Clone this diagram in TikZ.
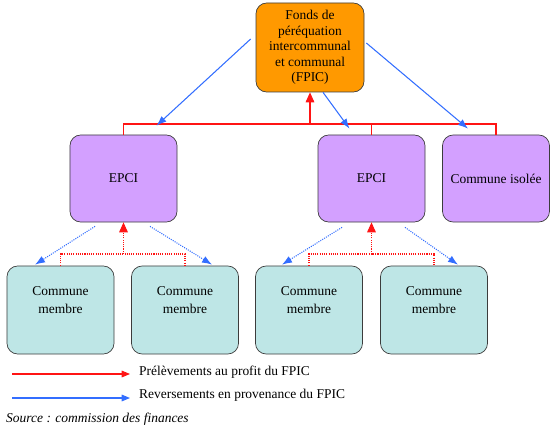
\documentclass[tikz,border=0pt]{standalone}
\usepackage{fontspec}
\setmainfont{Liberation Serif}
\usetikzlibrary{arrows.meta, positioning, calc}
\definecolor{fpicOrange}{RGB}{255,153,0}
\definecolor{fpicViolet}{RGB}{211,160,255}
\definecolor{fpicCyan}{RGB}{190,230,230}
\definecolor{fpicRed}{RGB}{255,20,20}
\definecolor{fpicBlue}{RGB}{51,110,255}
\definecolor{fpicInk}{RGB}{60,60,60}
\newcommand{\membretexte}{\raisebox{0.15cm}[0pt][0pt]{\begin{tabular}{@{}c@{}}Commune\\[2pt]membre\end{tabular}}}

\begin{document}
\begin{tikzpicture}[x=0.03cm, y=-0.03cm,
      box/.style={rounded corners=0.32cm, draw=fpicInk, line width=0.6pt, minimum width=3.21cm,
      minimum height=2.61cm, align=center, inner sep=2pt, font=\fontsize{11.5}{13.2}\selectfont},
      fonds/.style={box, fill=fpicOrange, minimum width=3.24cm, minimum height=2.67cm},
      groupe/.style={box, fill=fpicViolet},
      membre/.style={box, fill=fpicCyan, minimum height=2.64cm},
      prelev/.style={draw=fpicRed, line width=0.9pt},
      revers/.style={draw=fpicBlue, line width=0.9pt, -{Latex[length=0.3cm, width=0.22cm]}},
      legtext/.style={anchor=west, inner sep=0pt, font=\fontsize{11.5}{13.2}\selectfont}
    ]
    \useasboundingbox (0,0) rectangle (558,429);

    \node[fonds] (fpic) at (310,47.5) {Fonds de\\péréquation\\intercommunal\\et communal\\(FPIC)};
    \node[groupe] (epciA) at (123.5,178.5) {EPCI};
    \node[groupe] (epciB) at (371.5,178.5) {EPCI};
    \node[groupe] (isolee) at (496,178.5) {Commune isolée};

    \node[membre] (membreA) at (60.5,310) {\membretexte};
    \node[membre] (membreB) at (185,310) {\membretexte};
    \node[membre] (membreC) at (309,310) {\membretexte};
    \node[membre] (membreD) at (434,310) {\membretexte};

    % prelevements (rouge)
    \coordinate (bus) at (310,124);
    \draw[prelev] (epciA.north) |- (bus) -| (isolee.north);
    \draw[prelev] (epciB.north) -- (epciB.north |- bus);
    \draw[prelev, -{Triangle[length=0.3cm, width=0.26cm]}] (bus) -- (fpic.south);

    \coordinate (basA) at (123.5,254);
    \coordinate (basB) at (371.5,254);
    \draw[prelev, densely dotted] (membreA.north) |- (basA) -| (membreB.north);
    \draw[prelev, densely dotted] (membreC.north) |- (basB) -| (membreD.north);
    \draw[prelev, densely dotted, -{Triangle[length=0.3cm, width=0.26cm]}] (basA) -- (epciA.south);
    \draw[prelev, densely dotted, -{Triangle[length=0.3cm, width=0.26cm]}] (basB) -- (epciB.south);

    % reversements (bleu)
    \draw[revers] ($(fpic.west)+(-5,-8.5)$) -- ($(epciA.north)+(33,-9)$);
    \draw[revers] ($(fpic.south)+(13,0)$) -- ($(epciB.north)+(-22,-6)$);
    \draw[revers] ($(fpic.east)+(2,-4.5)$) -- ($(isolee.north)+(-28,-6)$);

    \draw[revers, densely dotted] ($(epciA.south)+(-28.5,4)$) -- ($(membreA.north)+(-25.5,-1)$);
    \draw[revers, densely dotted] ($(epciA.south)+(26.5,4)$) -- ($(membreB.north)+(27,-1)$);
    \draw[revers, densely dotted] ($(epciB.south)+(-29.5,5)$) -- ($(membreC.north)+(-27,-1)$);
    \draw[revers, densely dotted] ($(epciB.south)+(33.5,5)$) -- ($(membreD.north)+(24,-1)$);

    % legende
    \node[legtext] (legP) at (139,372) {Prélèvements au profit du FPIC};
    \node[legtext] (legR) at (139,395) {Reversements en provenance du FPIC};
    \node[legtext, font=\fontsize{11.5}{13.2}\selectfont\itshape] (source) at (6,419) {Source : commission des finances};
    \coordinate (legPstart) at (12,374);
    \coordinate (legRstart) at (12,398);
    \draw[prelev, -{Triangle[length=0.25cm, width=0.2cm]}, shorten >=0.27cm] (legPstart) -- (legPstart -| legP.west);
    \draw[revers, -{Triangle[length=0.25cm, width=0.2cm]}, shorten >=0.27cm] (legRstart) -- (legRstart -| legR.west);
  \end{tikzpicture}
\end{document}
